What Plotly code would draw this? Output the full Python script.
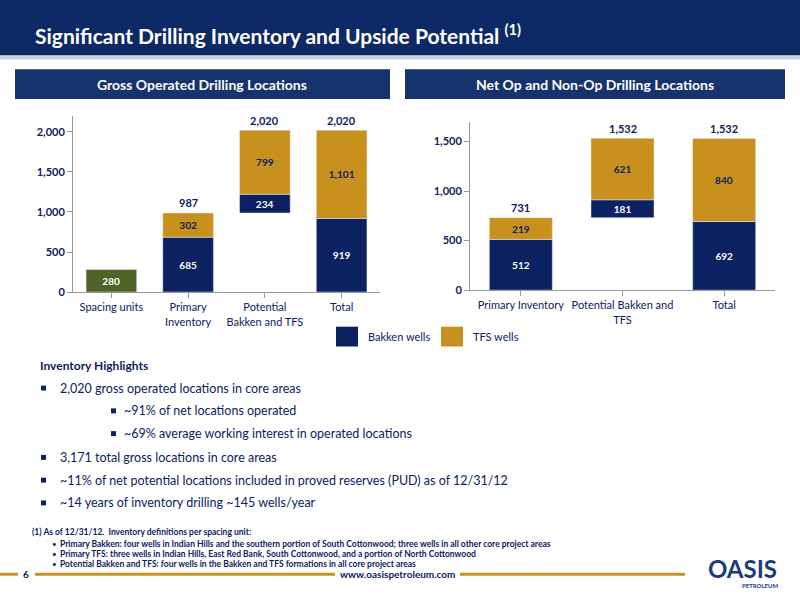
import plotly.graph_objects as go

# Left chart data
l_cats = ["Spacing units", "Primary<br>Inventory", "Potential<br>Bakken and TFS", "Total"]
l_spacing = [280, None, None, None]
l_bakken = [None, 685, 234, 919]
l_tfs = [None, 302, 799, 1101]
l_totals = [None, 987, 2020, 2020]
l_bakken_base = [0, 0, 987, 0]

# Right chart data
r_cats = ["Primary Inventory", "Potential Bakken and<br>TFS", "Total"]
r_bakken = [512, 181, 692]
r_tfs = [219, 621, 840]
r_totals = [731, 1532, 1532]
r_bakken_base = [0, 731, 0]

NAVY = "#0B2161"
GOLD = "#C8901C"
GREEN = "#4F6228"
FONT = "Lato"

def bf(color, size=11):
    return dict(color=color, size=size, family=FONT, weight="bold")

fig = go.Figure()
lb = [b if v else None for b, v in zip(l_bakken_base, l_bakken)]
fig.add_bar(x=l_cats[:1], y=l_spacing[:1], marker_color=GREEN, width=0.66, text=["280"],
            textposition="inside", insidetextanchor="middle",
            textfont=bf("white"), xaxis="x", yaxis="y")
fig.add_bar(x=l_cats[1:], y=l_bakken[1:], base=lb[1:], marker_color=NAVY, width=0.66,
            text=[f"{v:,}" for v in l_bakken[1:]], textposition="inside",
            insidetextanchor="middle", textfont=bf("white"),
            xaxis="x", yaxis="y")
l_tfs_base = [(b or 0) + v for b, v in zip(l_bakken_base[1:], l_bakken[1:])]
fig.add_bar(x=l_cats[1:], y=l_tfs[1:], base=l_tfs_base, marker_color=GOLD, width=0.66,
            text=[f"{v:,}" for v in l_tfs[1:]], textposition="inside",
            insidetextanchor="middle", textfont=bf(NAVY),
            xaxis="x", yaxis="y")
for c, t in zip(l_cats, l_totals):
    if t:
        fig.add_annotation(x=c, y=t, text=f"<b>{t:,}</b>", showarrow=False, yshift=10,
                           xref="x", yref="y", font=dict(size=11, color=NAVY, family=FONT))

fig.add_bar(x=r_cats, y=r_bakken, base=r_bakken_base, marker_color=NAVY, width=0.62,
            text=[f"{v:,}" for v in r_bakken], textposition="inside",
            insidetextanchor="middle", textfont=bf("white"),
            xaxis="x2", yaxis="y2")
r_tfs_base = [b + v for b, v in zip(r_bakken_base, r_bakken)]
fig.add_bar(x=r_cats, y=r_tfs, base=r_tfs_base, marker_color=GOLD, width=0.62,
            text=[f"{v:,}" for v in r_tfs], textposition="inside",
            insidetextanchor="middle", textfont=bf(NAVY),
            xaxis="x2", yaxis="y2")
for c, t in zip(r_cats, r_totals):
    fig.add_annotation(x=c, y=t, text=f"<b>{t:,}</b>", showarrow=False, yshift=10,
                       xref="x2", yref="y2", font=dict(size=11, color=NAVY, family=FONT))

axfont = dict(size=11, color=NAVY, family=FONT)
yfont = bf(NAVY)
fig.update_layout(
    width=800, height=600, margin=dict(l=0, r=0, t=0, b=0), showlegend=False,
    barmode="overlay", plot_bgcolor="white", paper_bgcolor="white",
    uniformtext=dict(mode="show", minsize=8),
    xaxis=dict(domain=[73/800, 380/800], anchor="y", showline=True, linecolor="#999",
               ticks="outside", tickcolor="#999", tickfont=axfont, showgrid=False,
               categoryorder="array", categoryarray=l_cats),
    yaxis=dict(domain=[1-295/600, 1-117/600], range=[0, 2200], tickvals=[0, 500, 1000, 1500, 2000],
               tickformat=",", showline=True, linecolor="#999", ticks="outside", tickcolor="#999",
               showgrid=False, tickfont=yfont, zeroline=False, anchor="x"),
    xaxis2=dict(domain=[470/800, 775/800], anchor="y2", showline=True, linecolor="#999",
                ticks="outside", tickcolor="#999", tickfont=axfont, showgrid=False),
    yaxis2=dict(domain=[1-293/600, 1-123/600], range=[0, 1700], tickvals=[0, 500, 1000, 1500],
                tickformat=",", showline=True, linecolor="#999", ticks="outside", tickcolor="#999",
                showgrid=False, tickfont=yfont, zeroline=False, anchor="x2"),
)

def px(x0, y0, x1, y1, color, line=None):
    fig.add_shape(type="rect", xref="paper", yref="paper", x0=x0/800, x1=x1/800,
                  y0=1-y1/600, y1=1-y0/600, fillcolor=color, line=dict(width=0) if line is None else line, layer="below")

def txt(x, y, s, size=12, color=NAVY, anchor="left", bold=False):
    fig.add_annotation(xref="paper", yref="paper", x=x/800, y=1-y/600, text=f"<b>{s}</b>" if bold else s,
                       showarrow=False, xanchor=anchor, yanchor="middle",
                       font=dict(size=size, color=color, family=FONT))

# Title bar
px(0, 0, 800, 56, "#0D2A66")
px(0, 56, 800, 60, "#C8D3E6")
txt(33, 34, "Significant Drilling Inventory and Upside Potential <sup>(1)</sup>", size=21, color="white", bold=True)
# Subheaders
px(15, 70, 390, 100, "#16336E")
px(405, 70, 785, 100, "#16336E")
txt(202, 85, "Gross Operated Drilling Locations", size=14, color="white", anchor="center", bold=True)
txt(595, 85, "Net Op and Non-Op Drilling Locations", size=14, color="white", anchor="center", bold=True)
# Legend
px(336, 330, 358, 350, NAVY)
txt(366, 340, "Bakken wells", size=11, color=NAVY)
px(441, 330, 463, 350, GOLD)
txt(471, 340, "TFS wells", size=11, color=NAVY)

# Highlights
txt(38, 369, "Inventory Highlights", size=12, bold=True)
bullets = [
    (41, 392, 58, "2,020 gross operated locations in core areas"),
    (111, 415, 122, "~91% of net locations operated"),
    (111, 438, 122, "~69% average working interest in operated locations"),
    (41, 462, 58, "3,171 total gross locations in core areas"),
    (41, 485, 58, "~11% of net potential locations included in proved reserves (PUD) as of 12/31/12"),
    (41, 508, 58, "~14 years of inventory drilling ~145 wells/year"),
]
for bx, by, tx, s in bullets:
    px(bx, by - 2.5, bx + 5, by + 2.5, NAVY)
    txt(tx, by, s, size=12.5)

# Footnote
txt(30, 537, "(1) As of 12/31/12.  Inventory definitions per spacing unit:", size=8.5, bold=True)
foot = [
    "Primary Bakken: four wells in Indian Hills and the southern portion of South Cottonwood; three wells in all other core project areas",
    "Primary TFS: three wells in Indian Hills, East Red Bank, South Cottonwood, and a portion of North Cottonwood",
    "Potential Bakken and TFS: four wells in the Bakken and TFS formations in all core project areas",
]
for i, s in enumerate(foot):
    txt(50, 549 + i*10.5, "•", size=8)
    txt(58, 549 + i*10.5, s, size=8.5, bold=True)

# Footer
for a, b in [(0, 18), (35, 335), (460, 685)]:
    fig.add_shape(type="line", xref="paper", yref="paper", x0=a/800, x1=b/800,
                  y0=1-580/600, y1=1-580/600, line=dict(color=GOLD, width=3))
txt(26, 580, "6", size=10, anchor="center", bold=True)
txt(397, 580, "www.oasispetroleum.com", size=10, anchor="center", bold=True)
txt(742, 574, "OASIS", size=24, color="#1B3C7A", anchor="center", bold=True)
txt(760, 591, "PETROLEUM", size=6, color="#1B3C7A", anchor="center", bold=True)

fig.write_html("out.html", config={"displayModeBar": False},
               post_script="document.body.style.margin='0';document.body.style.overflow='hidden';")
